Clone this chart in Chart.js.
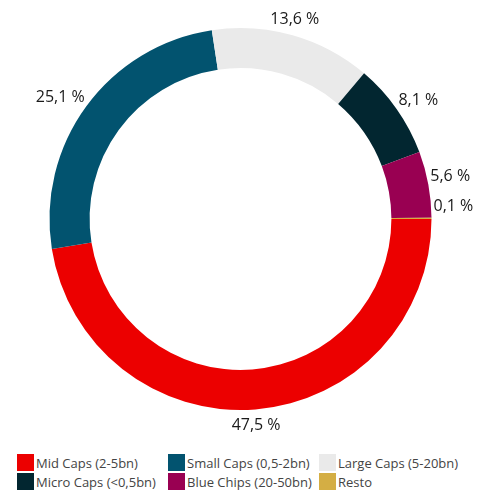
<!DOCTYPE html>
<html>
<head>
<meta charset="utf-8">
<script src="https://cdn.jsdelivr.net/npm/chart.js@4"></script>
<style>
  html, body { margin: 0; padding: 0; background: #fff; }
  #wrap { position: relative; width: 495px; height: 492px; }
  #box { position: absolute; left: 0; top: 0; width: 495px; height: 445px; }
  #legend {
    position: absolute; left: 17px; top: 454px;
    display: grid; grid-template-columns: 151px 151px 160px; row-gap: 2px;
    font-family: "Open Sans", sans-serif; font-size: 13px; color: #444;
  }
  .item { display: flex; align-items: center; height: 17px; white-space: nowrap; }
  .sw { width: 17px; height: 17px; margin-right: 2px; flex: none; }
</style>
</head>
<body>
<div id="wrap">
  <div id="box"><canvas id="donut"></canvas></div>
  <div id="legend"></div>
</div>
<script>
// data
const labels = ["Mid Caps (2-5bn)", "Small Caps (0,5-2bn)", "Large Caps (5-20bn)", "Micro Caps (<0,5bn)", "Blue Chips (20-50bn)", "Resto"];
const values = [47.5, 25.1, 13.6, 8.1, 5.6, 0.1];
const colors = ["#ec0000", "#02536f", "#eaeaea", "#022630", "#990052", "#d4ae44"];

// legend, 3 columns
const legend = document.getElementById("legend");
labels.forEach((l, i) => {
    const d = document.createElement("div");
    d.className = "item";
    const s = document.createElement("span");
    s.className = "sw";
    s.style.background = colors[i];
    d.appendChild(s);
    d.appendChild(document.createTextNode(l));
    legend.appendChild(d);
});

// outside value labels
const outLabels = {
    id: "outLabels",
    afterDatasetsDraw(chart) {
        const ctx = chart.ctx;
        const meta = chart.getDatasetMeta(0);
        ctx.save();
        ctx.font = "16px 'Open Sans', sans-serif";
        ctx.fillStyle = "#1a1a1a";
        meta.data.forEach((arc, i) => {
            const p = arc.getProps(["x", "y", "startAngle", "endAngle", "outerRadius"], true);
            const mid = (p.startAngle + p.endAngle) / 2;
            const cx = Math.cos(mid), cy = Math.sin(mid);
            const side = Math.abs(cy) <= 0.9;
            const r = p.outerRadius + (side ? 2 : 8);
            let x = p.x + cx * r;
            let y = p.y + cy * r;
            const txt = values[i].toFixed(1).replace(".", ",") + " %";
            if (cx > 0.3) { ctx.textAlign = "left"; }
            else if (cx < -0.3) { ctx.textAlign = "right"; }
            else { ctx.textAlign = "center"; }
            if (cy > 0.9) { ctx.textBaseline = "top"; }
            else if (cy < -0.9) { ctx.textBaseline = "bottom"; }
            else { ctx.textBaseline = "middle"; y -= 8; }
            if (i === values.length - 1) { y -= 4; }
            ctx.fillText(txt, x, y);
        });
        ctx.restore();
    }
};

new Chart(document.getElementById("donut").getContext("2d"), {
    type: "doughnut",
    data: {
        labels: labels,
        datasets: [{
            data: values,
            backgroundColor: colors,
            borderWidth: 0
        }]
    },
    options: {
        responsive: true,
        maintainAspectRatio: false,
        animation: false,
        rotation: 90,
        cutout: "79%",
        layout: { padding: { left: 49, right: 63, top: 28, bottom: 35 } },
        plugins: {
            legend: { display: false },
            tooltip: { enabled: false }
        }
    },
    plugins: [outLabels]
});
</script>
</body>
</html>
